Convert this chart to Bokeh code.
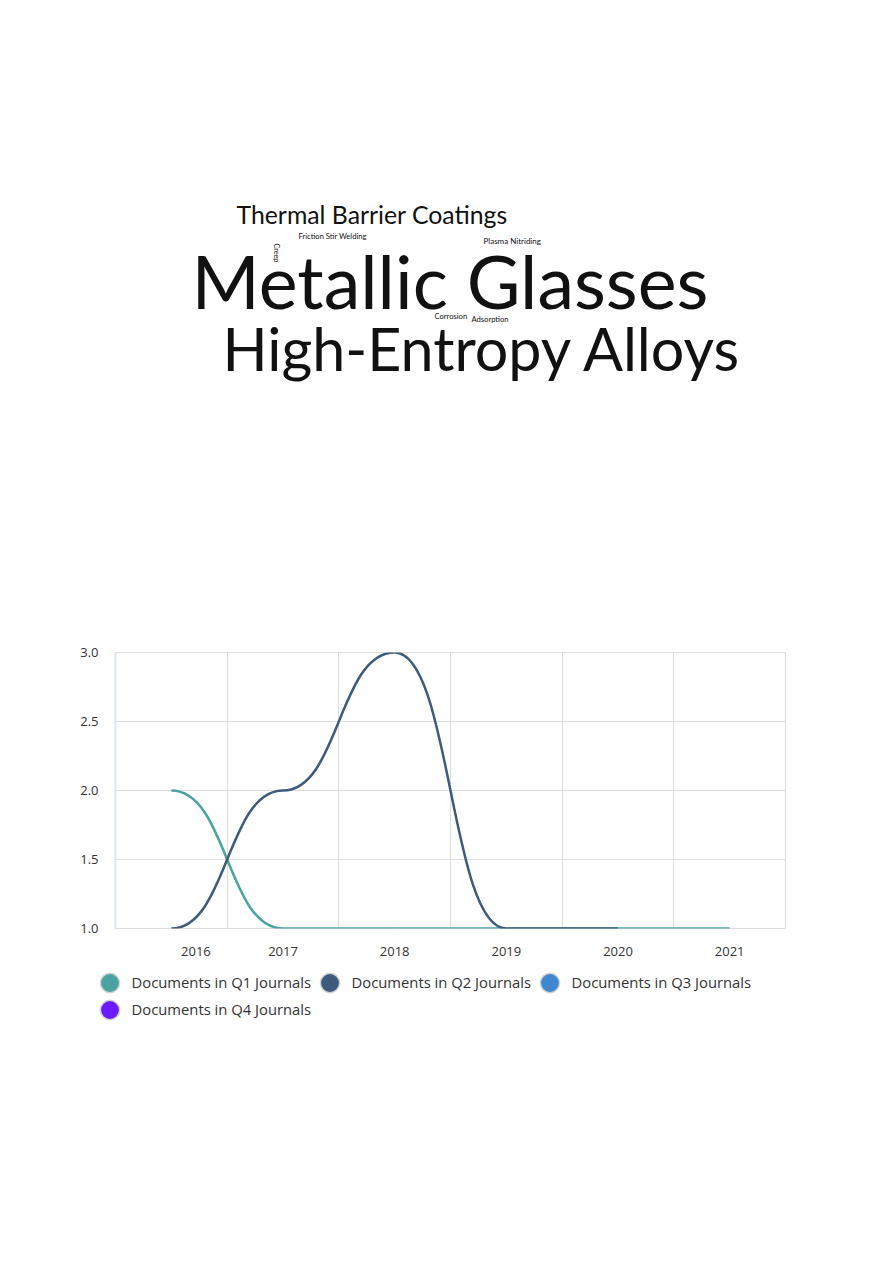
import numpy as np
from bokeh.plotting import figure
from bokeh.models import Range1d, FixedTicker, Legend, LegendItem, ColumnDataSource
from bokeh.core.properties import value
from bokeh.embed import file_html
from bokeh.resources import INLINE

# ---------------- data ----------------
words = ["Metallic Glasses", "High-Entropy Alloys", "Thermal Barrier Coatings",
         "Friction Stir Welding", "Plasma Nitriding", "Creep", "Corrosion", "Adsorption"]
weights = [9.2, 7.4, 3.1, 0.95, 1.0, 0.9, 0.95, 0.95]

years = ["2016", "2017", "2018", "2019", "2020", "2021"]
q1_values = [2, 1, 1, 1, 1, 1]
q2_values = [1, 2, 3, 1, 1]
q3_values = []
q4_values = []
series_names = ["Documents in Q1 Journals", "Documents in Q2 Journals",
                "Documents in Q3 Journals", "Documents in Q4 Journals"]
y_ticks = [1.0, 1.5, 2.0, 2.5, 3.0]

# ---------------- styles / layout ----------------
colors = ["#4aa3a1", "#3e5b7b", "#3f88d0", "#6a1bff"]
FONT = "Open Sans"
CLOUD_FONT = "Lato"
W = 877
H1 = 600
FRAME_L, FRAME_R = 115, 785

# word-cloud placement (page pixels): left x, baseline y, rotation
word_x = [191, 222, 236, 298, 483, 273, 434, 471]
word_y = [308, 370, 223, 238, 244, 243, 318, 321]
word_rot = [0, 0, 0, 0, 0, 1, 0, 0]
px_per_weight = 8.0
shift = 0.38  # empirical baseline correction of svg text

sizes = [w * px_per_weight for w in weights]
xs = [x + (shift * s if r else 0) for x, s, r in zip(word_x, sizes, word_rot)]
ys = [y - (0 if r else shift * s) for y, s, r in zip(word_y, sizes, word_rot)]

cloud = figure(width=W, height=H1, output_backend="svg", toolbar_location=None,
               x_range=Range1d(FRAME_L, FRAME_R), y_range=Range1d(H1, 0),
               min_border_left=FRAME_L, min_border_right=W - FRAME_R,
               min_border_top=0, min_border_bottom=0, outline_line_color=None)
cloud.axis.visible = False
cloud.grid.visible = False
cloud_src = ColumnDataSource(dict(
    x=xs, y=ys, text=words, angle=[-np.pi / 2 * r for r in word_rot],
    size=[f"{s:.1f}px" for s in sizes]))
cloud.text(x="x", y="y", text="text", angle="angle", text_font_size="size",
           source=cloud_src, text_font=value(CLOUD_FONT), text_color="#111111",
           text_align="left", text_baseline="alphabetic")

# ---------------- line chart ----------------
p = figure(width=W, height=362, output_backend="svg", toolbar_location=None,
           x_range=Range1d(-0.5, len(years) - 0.5), y_range=Range1d(1.0, 3.0),
           min_border_left=FRAME_L, min_border_right=W - FRAME_R, min_border_top=52,
           min_border_bottom=34, outline_line_color="#dddddd",
           background_fill_color="white")

xs_idx = list(range(len(years)))
tick_pos = [i + (0.22 if i == 0 else 0.0) for i in xs_idx]
p.xaxis.ticker = FixedTicker(ticks=tick_pos)
p.xaxis.major_label_overrides = {t: y for t, y in zip(tick_pos, years)}
p.xaxis.axis_line_color = None
p.xaxis.major_tick_line_color = None
p.xaxis.minor_tick_line_color = None
p.xaxis.major_label_text_font = FONT
p.xaxis.major_label_text_font_size = "13px"
p.xaxis.major_label_text_color = "#333333"
p.xaxis.major_label_standoff = 12

p.yaxis.ticker = FixedTicker(ticks=y_ticks)
p.yaxis.major_label_overrides = {t: f"{t:.1f}" for t in y_ticks}
p.yaxis.axis_line_color = "#dbe5ef"
p.yaxis.axis_line_width = 2
p.yaxis.major_tick_line_color = None
p.yaxis.minor_tick_line_color = None
p.yaxis.major_label_text_font = FONT
p.yaxis.major_label_text_font_size = "13px"
p.yaxis.major_label_text_color = "#333333"
p.yaxis.major_label_standoff = 11

p.xgrid.ticker = FixedTicker(ticks=[i + 0.5 for i in xs_idx[:-1]])
p.xgrid.grid_line_color = "#dddddd"
p.ygrid.grid_line_color = "#dddddd"


def smooth(values, color):
    n = len(values)
    if n < 2:
        return
    x0 = np.arange(n - 1, dtype=float)
    x1 = x0 + 1
    y0 = np.array(values[:-1], dtype=float)
    y1 = np.array(values[1:], dtype=float)
    src = ColumnDataSource(dict(x0=x0, y0=y0, x1=x1, y1=y1,
                                cx0=x0 + 0.5, cy0=y0, cx1=x1 - 0.5, cy1=y1))
    p.bezier(x0="x0", y0="y0", x1="x1", y1="y1", cx0="cx0", cy0="cy0",
             cx1="cx1", cy1="cy1", source=src, line_color=color, line_width=2.5)


for vals, c in zip([q1_values, q2_values, q3_values, q4_values], colors):
    smooth(vals, c)

# ---------------- legend (own canvas) ----------------
LH = 100
leg = figure(width=W, height=LH, output_backend="svg", toolbar_location=None,
             x_range=Range1d(0, 1), y_range=Range1d(0, 1), min_border=0,
             outline_line_color=None)
leg.axis.visible = False
leg.grid.visible = False
items = []
for name, c in zip(series_names, colors):
    # proxy markers kept outside the visible range; only used for the legend swatch
    halo = leg.scatter(x=[-5], y=[-5], size=10.8, marker="circle", fill_color="#c4c4c4",
                       line_color="#c4c4c4", line_width=10, line_alpha=0.75)
    dot = leg.scatter(x=[-5], y=[-5], size=10.8, marker="circle", fill_color=c,
                      line_color=c, line_width=7)
    items.append(LegendItem(label=name, renderers=[halo, dot]))

legend = Legend(items=items, location=(95.5, LH - 6.5 - 54), orientation="horizontal",
                ncols=3, glyph_width=27, glyph_height=27, label_standoff=9,
                label_width=184, label_height=27, spacing=0, padding=0, margin=0,
                label_text_font=FONT, label_text_font_size="14.8px",
                label_text_color="#333333",
                background_fill_alpha=0, border_line_color=None)
leg.add_layout(legend)

open("out.html", "w").write(file_html([cloud, p, leg], INLINE))
